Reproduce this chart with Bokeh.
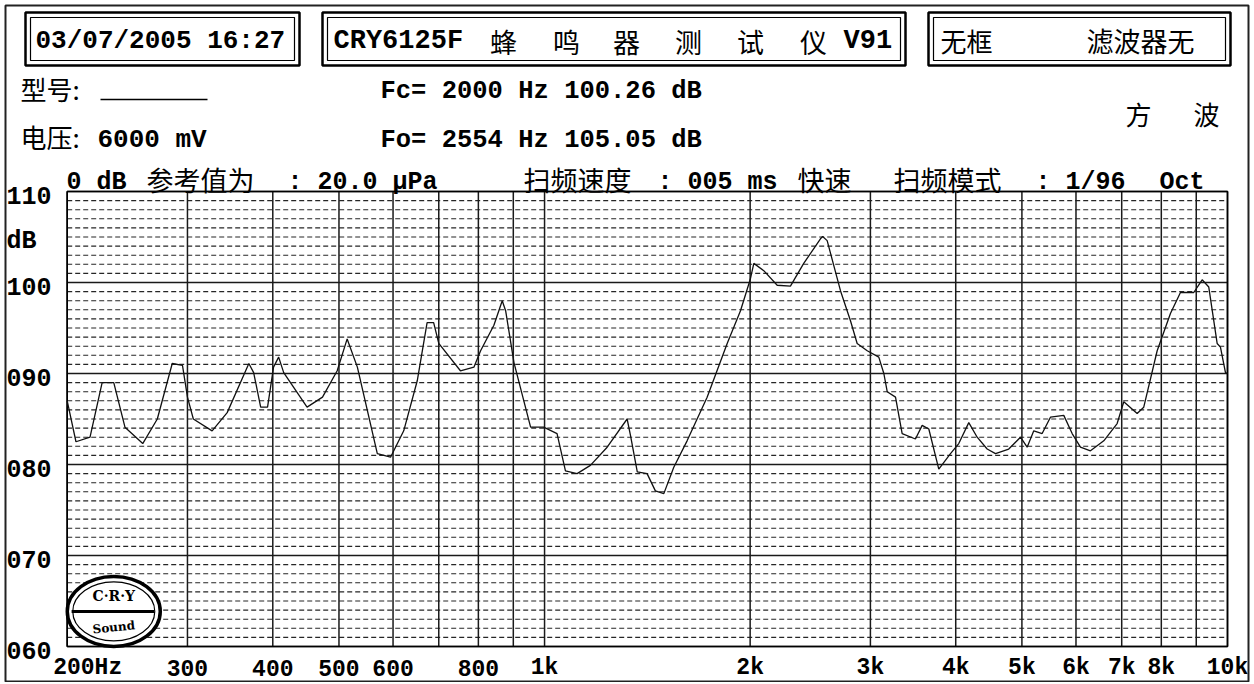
import math
from bokeh.plotting import figure
from bokeh.models import Range1d, LogScale
from bokeh.embed import file_html
from bokeh.resources import INLINE
from bokeh.core.properties import value

# ---------------- data ----------------
freq_hz = [
    200, 206, 216, 225, 234, 243, 258, 271, 285, 295,
    300, 306, 326, 343, 369, 375, 384, 393, 397, 401,
    408, 415, 449, 473, 497, 514, 532, 569, 595, 622,
    651, 673, 688, 700, 753, 788, 806, 843, 867, 877,
    902, 954, 997, 1043, 1073, 1116, 1167, 1235, 1321, 1336,
    1367, 1413, 1453, 1495, 1546, 1617, 1730, 1851, 1936, 2000,
    2025, 2094, 2191, 2291, 2396, 2535, 2554, 2593, 2712, 2805,
    2869, 2968, 3086, 3139, 3175, 3265, 3339, 3492, 3572, 3653,
    3778, 3930, 4041, 4180, 4300, 4447, 4574, 4783, 4976, 5089,
    5204, 5353, 5505, 5758, 5923, 6091, 6300, 6589, 6893, 7049,
    7374, 7540, 7889, 8250, 8533, 8925, 9181, 9388, 9657, 9765,
    9932, 10000,
]
level_db = [
    87.0, 82.5, 83.0, 89.0, 89.0, 84.1, 82.3, 85.0, 91.1, 90.9,
    87.4, 85.0, 83.7, 85.7, 91.1, 90.1, 86.3, 86.3, 88.5, 90.7,
    91.8, 90.1, 86.3, 87.4, 90.3, 93.8, 90.7, 81.2, 80.8, 83.7,
    89.2, 95.6, 95.6, 93.3, 90.3, 90.7, 92.5, 95.3, 98.0, 96.9,
    91.2, 84.1, 84.1, 83.4, 79.3, 79.0, 79.9, 81.9, 85.0, 83.2,
    79.2, 79.0, 77.1, 76.8, 79.7, 82.6, 87.4, 93.3, 96.9, 100.3,
    102.1, 101.3, 99.7, 99.6, 102.1, 104.8, 105.05, 104.6, 99.1, 95.8,
    93.3, 92.5, 91.8, 90.0, 88.0, 87.4, 83.4, 82.8, 84.3, 83.9,
    79.5, 81.2, 82.3, 84.6, 83.0, 81.7, 81.2, 81.7, 83.0, 81.9,
    83.7, 83.4, 85.2, 85.4, 83.4, 81.9, 81.5, 82.6, 84.5, 86.9,
    85.6, 86.3, 92.5, 96.6, 98.9, 98.9, 100.3, 99.5, 93.3, 92.9,
    90.1, 90.0,
]

grid_freqs = [200, 300, 400, 500, 600, 700, 800, 900, 1000,
              2000, 3000, 4000, 5000, 6000, 7000, 8000, 9000, 10000]
tick_freqs = [200, 300, 400, 500, 600, 800, 1000,
              2000, 3000, 4000, 5000, 6000, 7000, 8000, 10000]
tick_labels = ["200Hz", "300", "400", "500", "600", "800", "1k",
               "2k", "3k", "4k", "5k", "6k", "7k", "8k", "10k"]
db_major = [60, 70, 80, 90, 100, 110]
db_tick_values = [60, 70, 80, 90, 100, 105, 110]
db_tick_labels = ["060", "070", "080", "090", "100", "dB", "110"]

date_text = "03/07/2005 16:27"
model_code = "CRY6125F"
title_chars = ["蜂", "鸣", "器", "测", "试", "仪"]
version_text = "V91"
frame_text = "无框"
filter_text = "滤波器无"
model_label = "型号:"
voltage_label = "电压:"
voltage_value = "6000 mV"
fc_text = "Fc= 2000 Hz 100.26 dB"
fo_text = "Fo= 2554 Hz 105.05 dB"
wave_chars = ["方", "波"]
row3_texts = ["0 dB", "参考值为", ": 20.0 μPa", "扫频速度", ": 005 ms",
              "快速", "扫频模式", ": 1/96", "Oct"]
row3_is_cjk = [False, True, False, True, False, True, True, False, False]

# ---------------- layout constants ----------------
MONO = "Liberation Mono"
CJK = "Noto Sans CJK SC"
W, H = 1252, 682
F_MIN, F_MAX = 200, 10000
DB_MIN, DB_MAX = 60, 110
FRAME_L, FRAME_R, FRAME_T, FRAME_B = 66.7, 1227.0, 191.0, 646.0

px_per_decade = (FRAME_R - FRAME_L) / math.log10(F_MAX / F_MIN)
hz_start = F_MIN * 10 ** (-FRAME_L / px_per_decade)
hz_end = F_MAX * 10 ** ((W - FRAME_R) / px_per_decade)
px_per_db = (FRAME_B - FRAME_T) / (DB_MAX - DB_MIN)
db_start = DB_MIN - (H - FRAME_B) / px_per_db
db_end = DB_MAX + FRAME_T / px_per_db

p = figure(width=W, height=H, x_range=Range1d(0, W), y_range=Range1d(H, 0),
           extra_x_ranges={"hz": Range1d(hz_start, hz_end)},
           extra_x_scales={"hz": LogScale()},
           extra_y_ranges={"db": Range1d(db_start, db_end)},
           output_backend="svg", toolbar_location=None, min_border=0,
           x_axis_location=None, y_axis_location=None, title=None)
p.grid.visible = False
p.outline_line_color = None
p.background_fill_color = "white"
p.border_fill_color = "white"

CH = dict(x_range_name="hz", y_range_name="db")

# ---------------- chart grid ----------------
n_minor = [v for v in range(DB_MIN + 1, DB_MAX) if v % 10 != 0]
p.segment(x0=[F_MIN] * len(n_minor), x1=[F_MAX] * len(n_minor), y0=n_minor, y1=n_minor,
          line_color="#262626", line_width=1.1, line_dash="5 3", **CH)
p.segment(x0=grid_freqs, x1=grid_freqs, y0=[DB_MIN] * len(grid_freqs), y1=[DB_MAX] * len(grid_freqs),
          line_color="#1a1a1a", line_width=1.5, **CH)
p.segment(x0=[F_MIN] * len(db_major), x1=[F_MAX] * len(db_major), y0=db_major, y1=db_major,
          line_color="#1a1a1a", line_width=1.5, **CH)
p.quad(left=[F_MIN], right=[F_MAX], bottom=[DB_MIN], top=[DB_MAX], fill_color=None,
       line_color="black", line_width=1.6, **CH)

# response curve
p.line(freq_hz, level_db, line_color="#111111", line_width=1.3, **CH)

# logo (CRY Sound)
p.ellipse(x=[234], y=[63.85], width=[93], height=[70], width_units="screen", height_units="screen",
          fill_color="white", line_color="black", line_width=3.5, **CH)
p.ellipse(x=[234], y=[63.85], width=[82], height=[59], width_units="screen", height_units="screen",
          fill_color=None, line_color="black", line_width=1.2, **CH)
p.segment(x0=[203], y0=[63.85], x1=[268], y1=[63.85], line_color="black", line_width=3, **CH)
p.text(x=[234], y=[65.6], text=["C·R·Y"], text_font=value("DejaVu Serif"), text_font_size="14px",
       text_font_style="bold", text_align="center", text_baseline="middle", **CH)
p.text(x=[234], y=[62.1], text=["Sound"], text_font=value("DejaVu Serif"), text_font_size="12px",
       text_font_style="bold", text_align="center", text_baseline="middle", angle=0.1, **CH)

# ---------------- tick labels (through the chart scales) ----------------
p.text(x=tick_freqs[1:], y=[DB_MIN] * (len(tick_freqs) - 1), text=tick_labels[1:], y_offset=21,
       text_font=value(MONO), text_font_size="23px", text_font_style="bold",
       text_align="center", text_baseline="middle", **CH)
p.text(x=tick_freqs[:1], y=[DB_MIN], text=tick_labels[:1], x_offset=-14, y_offset=21,
       text_font=value(MONO), text_font_size="23px", text_font_style="bold",
       text_align="left", text_baseline="middle", **CH)
p.text(x=[6] * len(db_tick_values), y=db_tick_values, text=db_tick_labels, y_offset=4,
       text_font=value(MONO), text_font_size="25px", text_font_style="bold",
       text_align="left", text_baseline="middle", y_range_name="db")

# ---------------- header ----------------
p.quad(left=[5], right=[1248], top=[5], bottom=[681], fill_color=None, line_color="#222222", line_width=2)
box_left = [25, 322, 928]
box_right = [299, 905, 1230]
p.quad(left=box_left, right=box_right, top=[12] * 3, bottom=[65] * 3,
       fill_color=None, line_color="black", line_width=2.5)
p.quad(left=[v + 5 for v in box_left], right=[v - 5 for v in box_right],
       top=[17] * 3, bottom=[60] * 3, fill_color=None, line_color="black", line_width=1.2)


def htext(xs, ys, texts, font, size, bold=False, align="left"):
    p.text(x=xs, y=ys, text=texts, text_font=value(font), text_font_size=size,
           text_font_style="bold" if bold else "normal", text_baseline="middle",
           text_align=align, text_color="black")


htext([35, 97], [40, 139], [date_text, voltage_value], MONO, "26px", bold=True)
htext([333, 843], [40, 40], [model_code, version_text], MONO, "27px", bold=True)
htext([380, 380], [91, 139.5], [fc_text, fo_text], MONO, "25.5px", bold=True)
htext([20, 20], [88, 136], [model_label, voltage_label], CJK, "26px")
htext([940], [40], [frame_text], CJK, "26px")
htext([503, 566, 626, 688, 750, 813], [41] * 6, title_chars, CJK, "27px", align="center")
htext([1140], [40], [filter_text], CJK, "27px", align="center")
htext([1138, 1206], [113, 113], wave_chars, CJK, "26px", align="center")
p.segment(x0=[100], y0=[99], x1=[207], y1=[99], line_color="black", line_width=1.5)

row3_x = [66, 146, 287, 523, 657, 797, 893, 1035, 1159]
for x, txt, is_cjk in zip(row3_x, row3_texts, row3_is_cjk):
    if is_cjk:
        htext([x], [179], [txt], CJK, "27px")
    else:
        htext([x], [182], [txt], MONO, "25px", bold=True)

with open("out.html", "w") as f:
    f.write(file_html(p, INLINE))
